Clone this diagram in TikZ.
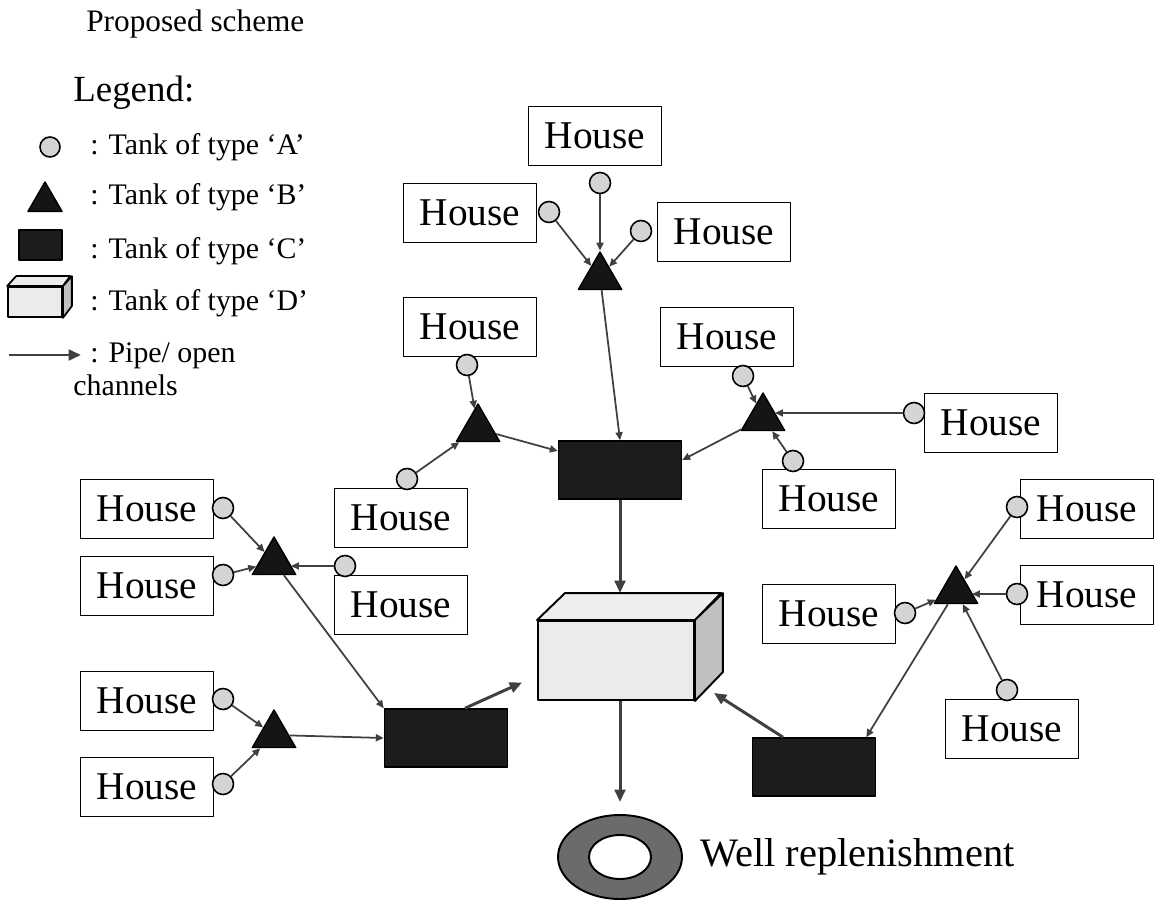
\documentclass[tikz,border=0pt]{standalone}
\usepackage{fontspec}
\setmainfont{Liberation Serif}
\usetikzlibrary{shapes.geometric,arrows.meta,calc}
\definecolor{pipec}{HTML}{404040}
\definecolor{circfill}{HTML}{D4D4D4}
\definecolor{blk}{HTML}{1C1C1C}
\definecolor{tri}{HTML}{151515}
\definecolor{cubefront}{HTML}{EBEBEB}
\definecolor{cubetop}{HTML}{EEEEEE}
\definecolor{cubeside}{HTML}{C0C0C0}
\definecolor{wellgray}{HTML}{6B6B6B}
\begin{document}
\begin{tikzpicture}[x=0.02cm,y=-0.02cm,line join=round,
 house/.style={draw,line width=1.1pt,minimum width=2.66cm,minimum height=1.18cm,inner sep=0pt,fill=white,font=\fontsize{22.4}{26}\selectfont},
 tankA/.style={circle,draw,line width=0.9pt,fill=circfill,minimum size=0.42cm,inner sep=0pt},
 tankB/.style={regular polygon,regular polygon sides=3,draw,line width=0.8pt,fill=tri,minimum size=1cm,inner sep=0pt},
 tankC/.style={draw,line width=0.9pt,fill=blk,minimum width=2.46cm,minimum height=1.16cm,inner sep=0pt},
 pipe/.style={draw=pipec,line width=1pt,-{Triangle[length=4.5pt,width=4pt]}},
 bigpipe/.style={draw=pipec,line width=1.7pt,-{Triangle[length=7pt,width=6pt]}},
 legtext/.style={anchor=base west,inner sep=0pt,font=\fontsize{17}{20}\selectfont}
 ]
\useasboundingbox (0,0) rectangle (1155,901);

% ---------- title and legend ----------
\node[anchor=base west,inner sep=0pt,font=\fontsize{17.8}{21}\selectfont] (title) at (86,32) {Proposed scheme};
\node[anchor=base west,inner sep=0pt,font=\fontsize{21}{25}\selectfont] (legend) at (73,102) {Legend:};

\node[tankA,minimum size=0.40cm] (lgA) at (50,147) {};
\node[legtext] (lgAt) at (90,155) {: Tank of type ‘A’};
\node[tankB,minimum size=0.785cm] (lgB) at (45,201.6) {};
\node[legtext] (lgBt) at (90,205) {: Tank of type ‘B’};
\node[tankC,minimum width=0.86cm,minimum height=0.6cm] (lgC) at (40.5,245) {};
\node[legtext] (lgCt) at (90,259) {: Tank of type ‘C’};
\node[draw,line width=1pt,fill=cubefront,minimum width=1.08cm,minimum height=0.6cm,inner sep=0pt] (lgD) at (35,302) {};
\draw[line width=1pt,fill=cubetop] (lgD.north west) -- ++(9,-10) -- ++(54,0) -- (lgD.north east) -- cycle;
\draw[line width=1pt,fill=cubeside] (lgD.north east) -- ++(9,-10) -- ++(0,30) -- (lgD.south east) -- cycle;
\node[legtext] (lgDt) at (90,311) {: Tank of type ‘D’};
\coordinate (lgP1) at (9,355);
\coordinate (lgP2) at (81,355);
\draw[bigpipe] (lgP1) -- (lgP2);
\node[legtext] (lgPt) at (90,363) {: Pipe/ open};
\node[legtext] (lgPt2) at (73,396) {channels};

% ---------- houses ----------
\node[house] (hT1) at (595,136) {House};
\node[house] (hT2) at (470,213) {House};
\node[house] (hT3) at (724,232) {House};
\node[house] (hL1) at (470,327) {House};
\node[house] (hL2) at (401,518) {House};
\node[house] (hR1) at (727,337) {House};
\node[house] (hR2) at (991,423) {House};
\node[house] (hR3) at (829,499) {House};
\node[house] (hLL1) at (147,509) {House};
\node[house] (hLL2) at (147,586) {House};
\node[house] (hLL3) at (401,605) {House};
\node[house] (hLL4) at (147,701) {House};
\node[house] (hLL5) at (147,787) {House};
\node[house] (hRR1) at (1087,509) {House};
\node[house] (hRR2) at (1087,595) {House};
\node[house] (hRR3) at (829,614) {House};
\node[house] (hRR4) at (1012,729) {House};

% ---------- type A tanks ----------
\node[tankA] (aT1) at (600,183) {};
\node[tankA] (aT2) at (549,212) {};
\node[tankA] (aT3) at (641,231) {};
\node[tankA] (aL1) at (467,365) {};
\node[tankA] (aL2) at (407,479) {};
\node[tankA] (aR1) at (743,376) {};
\node[tankA] (aR2) at (914,413) {};
\node[tankA] (aR3) at (793,461) {};
\node[tankA] (aLL1) at (223,508) {};
\node[tankA] (aLL2) at (223,575) {};
\node[tankA] (aLL3) at (345,566) {};
\node[tankA] (aLL4) at (223,699) {};
\node[tankA] (aLL5) at (223,784) {};
\node[tankA] (aRR1) at (1017,507) {};
\node[tankA] (aRR2) at (1017,594) {};
\node[tankA] (aRR3) at (905,613) {};
\node[tankA] (aRR4) at (1007,690) {};

% ---------- type B tanks ----------
\node[tankB] (bT) at (600,277) {};
\node[tankB] (bL) at (478,429) {};
\node[tankB] (bR) at (763,418) {};
\node[tankB] (bLL) at (274,562) {};
\node[tankB] (bLL2) at (274,735) {};
\node[tankB] (bRR) at (956,591) {};

% ---------- type C tanks ----------
\node[tankC] (c1) at (620,470) {};
\node[tankC] (c2) at (446,738) {};
\node[tankC] (c3) at (814,767) {};

% ---------- type D tank ----------
\node[draw,line width=1.1pt,fill=cubefront,minimum width=3.12cm,minimum height=1.58cm,inner sep=0pt] (d) at (616,660.5) {};
\draw[line width=1.1pt,fill=cubetop] (d.north west) -- ++(28,-27) -- ++(156,0) -- (d.north east) -- cycle;
\draw[line width=1.1pt,fill=cubeside] (d.north east) -- ++(28,-27) -- ++(0,79) -- (d.south east) -- cycle;
\coordinate (dtop) at ($(d.north)+(0,-27)$);

% ---------- well ----------
\node[ellipse,draw,line width=1.1pt,fill=wellgray,minimum width=2.48cm,minimum height=1.68cm,inner sep=0pt] (well) at (620,857) {};
\node[ellipse,draw,line width=1.1pt,fill=white,minimum width=1.24cm,minimum height=0.88cm,inner sep=0pt] (wellin) at (620,857) {};
\node[anchor=west,inner sep=0pt,font=\fontsize{23}{27}\selectfont] (welltext) at (700,857) {Well replenishment};

% ---------- connectors: A -> B ----------
\draw[pipe] (aT1) -- (bT);
\draw[pipe] (aT2) -- (bT);
\draw[pipe] (aT3) -- (bT);
\draw[pipe] (aL1) -- (bL);
\draw[pipe] (aL2) -- (bL);
\draw[pipe] (aR1) -- (bR);
\draw[pipe] (aR2) -- ($(bR)+(12,-5)$);
\draw[pipe] (aR3) -- (bR);
\draw[pipe] (aLL1) -- (bLL);
\draw[pipe] (aLL2) -- (bLL);
\draw[pipe] (aLL3) -- ($(bLL)+(17,4)$);
\draw[pipe] (aLL4) -- (bLL2);
\draw[pipe] (aLL5) -- (bLL2);
\draw[pipe] (aRR1) -- (bRR);
\draw[pipe] (aRR2) -- ($(bRR)+(16,3)$);
\draw[pipe] (aRR3) -- (bRR);
\draw[pipe] (aRR4) -- (bRR);

% ---------- connectors: B -> C ----------
\draw[pipe] (bT) -- (c1.north);
\draw[pipe] (bL) -- ($(c1.west)+(0,-19)$);
\draw[pipe] (bR) -- ($(c1.east)+(0,-10)$);
\draw[pipe] (bLL) -- (c2.north west);
\draw[pipe] (bLL2) -- (c2.west);
\draw[pipe] (bRR) -- ($(c3.north east)+(-10,0)$);

% ---------- connectors: C -> D -> well ----------
\draw[bigpipe] (c1.south) -- (c1.south |- dtop);
\draw[bigpipe] ($(c2.north)+(19,0)$) -- ($(d.west)+(-15,22)$);
\draw[bigpipe] ($(c3.north)+(-31,0)$) -- ($(d.south east)+(19,-8)$);
\draw[bigpipe] (well.north |- d.south) -- ($(well.north)+(0,-12)$);
\end{tikzpicture}
\end{document}
